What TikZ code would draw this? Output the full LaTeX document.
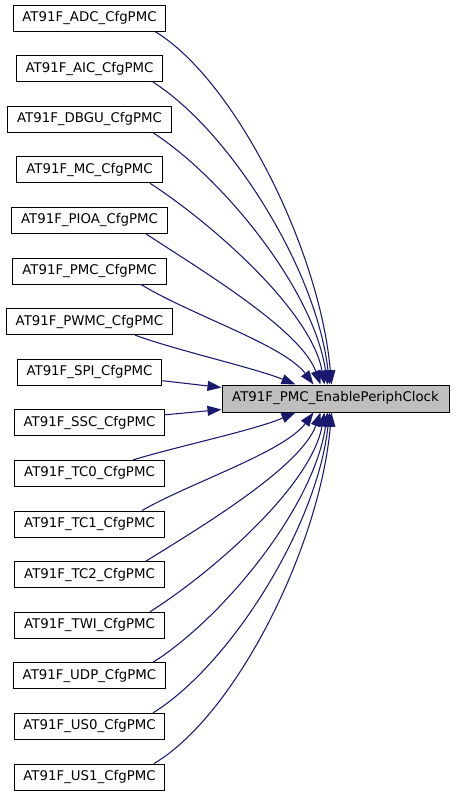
\documentclass[tikz,border=0pt]{standalone}
\usepackage{fontspec}
\setmainfont{DejaVu Sans}
\usetikzlibrary{calc,arrows.meta}
\definecolor{edgecol}{HTML}{191970}
\definecolor{tgtfill}{HTML}{BFBFBF}
\begin{document}
\begin{tikzpicture}[x=0.75pt,y=-0.75pt,
  fn/.style={draw=black,line width=0.75pt,fill=white,
    font=\fontsize{10pt}{12pt}\selectfont,inner xsep=7pt,inner ysep=0pt,
    minimum height=19.5pt},
  tgtbox/.style={fn,fill=tgtfill,minimum width=170.25pt,minimum height=20.25pt},
  edge/.style={draw=edgecol,line width=0.8pt,-{Triangle[length=10.5pt,width=7.5pt]}}]
\useasboundingbox (0,0) rectangle (455,797);

\node[fn] (adc)  at (89.5,18)    {AT91F\_ADC\_CfgPMC};
\node[fn] (aic)  at (89.5,68.6)  {AT91F\_AIC\_CfgPMC};
\node[fn] (dbgu) at (89.5,119.2) {AT91F\_DBGU\_CfgPMC};
\node[fn] (mc)   at (89.5,169.8) {AT91F\_MC\_CfgPMC};
\node[fn] (pioa) at (89.5,220.4) {AT91F\_PIOA\_CfgPMC};
\node[fn] (pmc)  at (89.5,271)   {AT91F\_PMC\_CfgPMC};
\node[fn] (pwmc) at (89.5,321.6) {AT91F\_PWMC\_CfgPMC};
\node[fn] (spi)  at (89.5,372.2) {AT91F\_SPI\_CfgPMC};
\node[fn] (ssc)  at (89.5,422.8) {AT91F\_SSC\_CfgPMC};
\node[fn] (tc0)  at (89.5,473.4) {AT91F\_TC0\_CfgPMC};
\node[fn] (tc1)  at (89.5,524)   {AT91F\_TC1\_CfgPMC};
\node[fn] (tc2)  at (89.5,574.6) {AT91F\_TC2\_CfgPMC};
\node[fn] (twi)  at (89.5,625.2) {AT91F\_TWI\_CfgPMC};
\node[fn] (udp)  at (89.5,675.8) {AT91F\_UDP\_CfgPMC};
\node[fn] (us0)  at (89.5,726.4) {AT91F\_US0\_CfgPMC};
\node[fn] (us1)  at (89.5,777)   {AT91F\_US1\_CfgPMC};

\node[tgtbox] (tgt) at (335.5,398.5) {AT91F\_PMC\_EnablePeriphClock};

% upper callers
\draw[edge] ($(adc.south)+(65.5,0)$)  .. controls (235,80)  and (320,250) .. ($(tgt.north west)+(110,0)$);
\draw[edge] ($(aic.south)+(63.5,0)$)  .. controls (230,131) and (317,270) .. ($(tgt.north west)+(108,0)$);
\draw[edge] ($(dbgu.south)+(63.5,0)$) .. controls (223,178) and (314,290) .. ($(tgt.north west)+(106,0)$);
\draw[edge] ($(mc.south)+(60.5,0)$)   .. controls (210,222) and (311,310) .. ($(tgt.north west)+(103,0)$);
\draw[edge] ($(pioa.south)+(56.5,0)$) .. controls (201,270) and (301,330) .. ($(tgt.north west)+(99,0)$);
\draw[edge] ($(pmc.south)+(51.5,0)$)  .. controls (191,315) and (284,345) .. ($(tgt.north west)+(92,0)$);
\draw[edge] ($(pwmc.south)+(45.5,0)$) .. controls (175,350) and (255,368) .. ($(tgt.north west)+(74,0)$);
% side callers
\draw[edge] ($(spi.east)+(0,8.5)$) -- ($(tgt.west)+(0,-11)$);
\draw[edge] ($(ssc.east)+(0,-8)$)  -- ($(tgt.west)+(0,11)$);
% lower callers
\draw[edge] ($(tc0.north)+(43.5,0)$) .. controls (175,447) and (255,430) .. ($(tgt.south west)+(74,0)$);
\draw[edge] ($(tc1.north)+(52.5,0)$) .. controls (192,482) and (284,452) .. ($(tgt.south west)+(92,0)$);
\draw[edge] ($(tc2.north)+(56.5,0)$) .. controls (201,527) and (301,467) .. ($(tgt.south west)+(99,0)$);
\draw[edge] ($(twi.north)+(60.5,0)$) .. controls (210,574) and (311,487) .. ($(tgt.south west)+(103,0)$);
\draw[edge] ($(udp.north)+(63.5,0)$) .. controls (223,618) and (314,507) .. ($(tgt.south west)+(106,0)$);
\draw[edge] ($(us0.north)+(63.5,0)$) .. controls (230,665) and (317,527) .. ($(tgt.south west)+(108,0)$);
\draw[edge] ($(us1.north)+(64.5,0)$) .. controls (235,716) and (320,547) .. ($(tgt.south west)+(110,0)$);
\end{tikzpicture}
\end{document}
